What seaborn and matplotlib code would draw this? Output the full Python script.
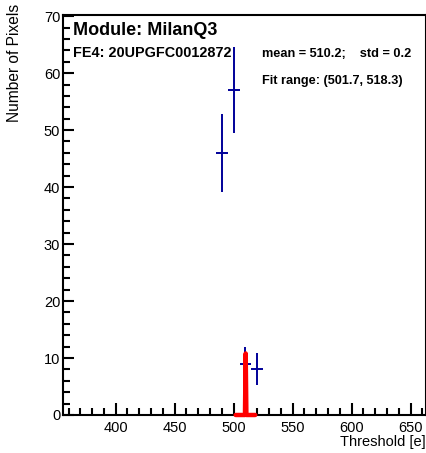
import numpy as np
import seaborn as sns
import matplotlib.pyplot as plt
from matplotlib.ticker import MultipleLocator

# Histogram bins that have entries (threshold in electrons)
bin_centers = [490, 500, 510, 520]
counts = [46, 57, 9, 8]
count_err = [6.8, 7.5, 3.0, 2.8]
bin_halfwidth = 5

# Gaussian fit curve
fit_x = [501.7, 509.6, 510.2, 510.8, 518.3]
fit_y = [0, 0, 10.8, 0, 0]

sns.set_style("ticks")
plt.rcParams['font.family'] = ['Liberation Sans', 'DejaVu Sans']
plt.rcParams['text.color'] = 'black'
plt.rcParams['xtick.color'] = 'black'
plt.rcParams['ytick.color'] = 'black'

fig = plt.figure(figsize=(4.27, 4.53), dpi=100)
ax = fig.add_axes([0.1475, 0.0839, 0.8513, 0.883])

ax.errorbar(bin_centers, counts, xerr=bin_halfwidth, yerr=count_err,
            fmt='none', ecolor='#000099', elinewidth=1.4, capsize=0, zorder=3)

sns.lineplot(x=fit_x, y=fit_y, ax=ax, color='red', linewidth=3.2,
             sort=False, clip_on=False, zorder=5)

ax.set_xlim(355.3, 663.5)
ax.set_ylim(0, 70.2)
ax.xaxis.set_major_locator(MultipleLocator(50))
ax.xaxis.set_minor_locator(MultipleLocator(10))
ax.yaxis.set_major_locator(MultipleLocator(10))
ax.yaxis.set_minor_locator(MultipleLocator(2))

ax.tick_params(which='both', direction='in', top=False, right=False,
               width=1.5, labelsize=10.5, colors='black')
ax.tick_params(axis='x', which='major', length=9, pad=4)
ax.tick_params(axis='x', which='minor', length=5)
ax.tick_params(axis='y', which='major', length=8, pad=2)
ax.tick_params(axis='y', which='minor', length=5)

for s in ax.spines.values():
    s.set_linewidth(1.5)
    s.set_color('black')
    s.set_visible(True)

ax.set_xlabel('')
ax.set_ylabel('')

W, H = 427, 453
fig.text(426 / W, 1 - 446 / H, 'Threshold [e]', ha='right', va='baseline', fontsize=10.5)
fig.text(15 / W, 1 - 4 / H, 'Number of Pixels', rotation=90, ha='center', va='top', fontsize=11.2)

fig.text(73 / W, 1 - 35 / H, 'Module: MilanQ3', fontsize=13, fontweight='bold', va='baseline')
fig.text(73 / W, 1 - 57 / H, 'FE4: 20UPGFC0012872', fontsize=10.4, fontweight='bold', va='baseline')
fig.text(262 / W, 1 - 57 / H, 'mean = 510.2;    std = 0.2', fontsize=9.2, fontweight='bold', va='baseline')
fig.text(262 / W, 1 - 84 / H, 'Fit range: (501.7, 518.3)', fontsize=9.2, fontweight='bold', va='baseline')

fig.savefig('out.png', dpi=100)
